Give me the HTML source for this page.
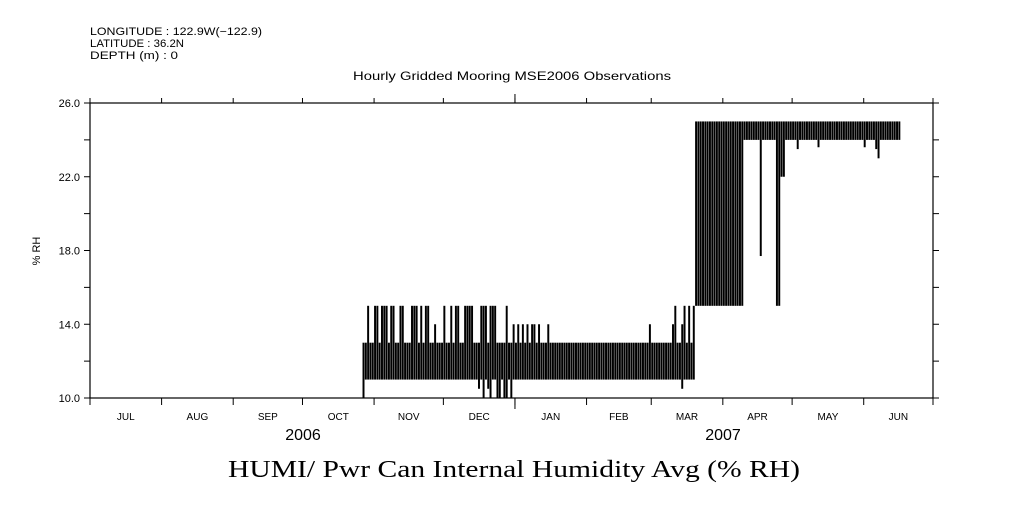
<!DOCTYPE html>
<html><head><meta charset="utf-8"><style>
body{margin:0;background:#fff;}
svg text{font-family:"Liberation Sans",sans-serif;fill:#000;}
</style></head><body>
<svg id="chart" width="1009" height="504" viewBox="0 0 1009 504" xmlns="http://www.w3.org/2000/svg">
<rect width="1009" height="504" fill="#fff"/>
<text x="90" y="35" font-size="11" textLength="172" lengthAdjust="spacingAndGlyphs">LONGITUDE : 122.9W(−122.9)</text>
<text x="90" y="47" font-size="11" textLength="94" lengthAdjust="spacingAndGlyphs">LATITUDE : 36.2N</text>
<text x="90" y="59" font-size="11" textLength="88" lengthAdjust="spacingAndGlyphs">DEPTH (m) : 0</text>
<text x="353" y="80" font-size="12" textLength="318" lengthAdjust="spacingAndGlyphs">Hourly Gridded Mooring MSE2006 Observations</text>
<text x="40" y="251" font-size="11" text-anchor="middle" transform="rotate(-90 40 251)">% RH</text>
<text x="228" y="477" font-size="24" textLength="572" lengthAdjust="spacingAndGlyphs" style="font-family:'Liberation Serif',serif">HUMI/ Pwr Can Internal Humidity Avg (% RH)</text>
<text x="303" y="440" font-size="16" text-anchor="middle">2006</text>
<text x="723" y="440" font-size="16" text-anchor="middle">2007</text>
<g id="marks"></g>
<g id="axes"></g>
</svg>
<script>
const startDay = 118;
const hiVals = [13,13,15,13,13,15,15,13,15,15, 15,13,15,15,13,13,15,15,13,13, 13,15,15,15,13,15,13,15,15,13, 13,14,13,13,13,15,13,13,15,13, 15,15,13,13,15,15,15,15,13,13, 13,15,15,15,13,15,15,15,13,13, 13,13,15,13,13,14,13,14,13,14, 13,14,13,14,14,13,14,13,13,13, 14,13,13,13,13,13,13,13,13,13, 13,13,13,13,13,13,13,13,13,13, 13,13,13,13,13,13,13,13,13,13, 13,13,13,13,13,13,13,13,13,13, 13,13,13,13,14,13,13,13,13,13, 13,13,13,13,14,15,13,13,14,15, 13,15,13,15,
25,25,25,25,25,25,25,25,25,25, 25,25,25,25,25,25,25,25,25,25, 25,25,25,25,25,25,25,25,25,25, 25,25,25,25,25,25,25,25,25,25, 25,25,25,25,25,25,25,25,25,25, 25,25,25,25,25,25,25,25,25,25, 25,25,25,25,25,25,25,25,25,25, 25,25,25,25,25,25,25,25,25,25, 25,25,25,25,25,25,25,25,25];
const loVals = [10,11,11,11,11,11,11,11,11,11, 11,11,11,11,11,11,11,11,11,11, 11,11,11,11,11,11,11,11,11,11, 11,11,11,11,11,11,11,11,11,11, 11,11,11,11,11,11,11,11,11,11, 10.5,11,10,11,10.5,10,11,11,10,10, 11,10,10,11,10,11,11,11,11,11, 11,11,11,11,11,11,11,11,11,11, 11,11,11,11,11,11,11,11,11,11, 11,11,11,11,11,11,11,11,11,11, 11,11,11,11,11,11,11,11,11,11, 11,11,11,11,11,11,11,11,11,11, 11,11,11,11,11,11,11,11,11,11, 11,11,11,11,11,11,11,11,10.5,11, 11,11,11,11,
15,15,15,15,15,15,15,15,15,15, 15,15,15,15,15,15,15,15,15,15, 15,24,24,24,24,24,24,24,17.7,24, 24,24,24,24,24,15,15,22,22,24, 24,24,24,24,23.5,24,24,24,24,24, 24,24,24,23.6,24,24,24,24,24,24, 24,24,24,24,24,24,24,24,24,24, 24,24,24,23.6,24,24,24,24,23.5,23, 24,24,24,24,24,24,24,24,24];
const yTicks = [10,14,18,22,26];
const yTickLabels = ["10.0","14.0","18.0","22.0","26.0"];
const monthStarts = [0,31,62,92,123,153,184,215,243,274,304,335,365];
const monthLabels = ["JUL","AUG","SEP","OCT","NOV","DEC","JAN","FEB","MAR","APR","MAY","JUN"];
const X0=90,X1=933,Y0=398,Y1=103;
const xs = d => X0 + d*(X1-X0)/365;
const ys = v => Y0 - (v-10)*(Y0-Y1)/16;
const NS="http://www.w3.org/2000/svg";
function mk(tag,attrs,parent){const e=document.createElementNS(NS,tag);for(const k in attrs)e.setAttribute(k,attrs[k]);parent.appendChild(e);return e;}
const marks=document.getElementById('marks'), axes=document.getElementById('axes');
for(let i=0;i<hiVals.length;i++){
  const x=xs(startDay+i), w=xs(1)-xs(0);
  const r=mk('rect',{x:x.toFixed(2),y:ys(hiVals[i]).toFixed(2),width:(w*0.85).toFixed(2),height:(ys(loVals[i])-ys(hiVals[i])).toFixed(2),fill:'#000'},marks);
  
  
}
const frame=mk('rect',{x:X0,y:Y1,width:X1-X0,height:Y0-Y1,fill:'none',stroke:'#000','stroke-width':1.2},axes);


for(let v=10;v<=26;v+=2){
  const y=ys(v);
  mk('line',{x1:X0-6,x2:X0,y1:y,y2:y,stroke:'#000'},axes);
  mk('line',{x1:X1,x2:X1+6,y1:y,y2:y,stroke:'#000'},axes);
}
yTicks.forEach((v,i)=>{
  const t=mk('text',{x:X0-10,y:ys(v)+4,'font-size':11,'text-anchor':'end'},axes);
  t.textContent=yTickLabels[i];
  
  
});
monthStarts.forEach(d=>{
  const x=xs(d);
  mk('line',{x1:x,x2:x,y1:Y0,y2:Y0+7,stroke:'#000'},axes);
  mk('line',{x1:x,x2:x,y1:Y1,y2:Y1-5,stroke:'#000'},axes);
});
mk('line',{x1:xs(184),x2:xs(184),y1:Y0,y2:Y0+11,stroke:'#000'},axes);
mk('line',{x1:xs(184),x2:xs(184),y1:Y1,y2:Y1-9,stroke:'#000'},axes);
monthLabels.forEach((m,i)=>{
  const t=mk('text',{x:xs((monthStarts[i]+monthStarts[i+1])/2),y:420,'font-size':10,'text-anchor':'middle'},axes);
  t.textContent=m;
  
  
});
</script>
</body></html>
